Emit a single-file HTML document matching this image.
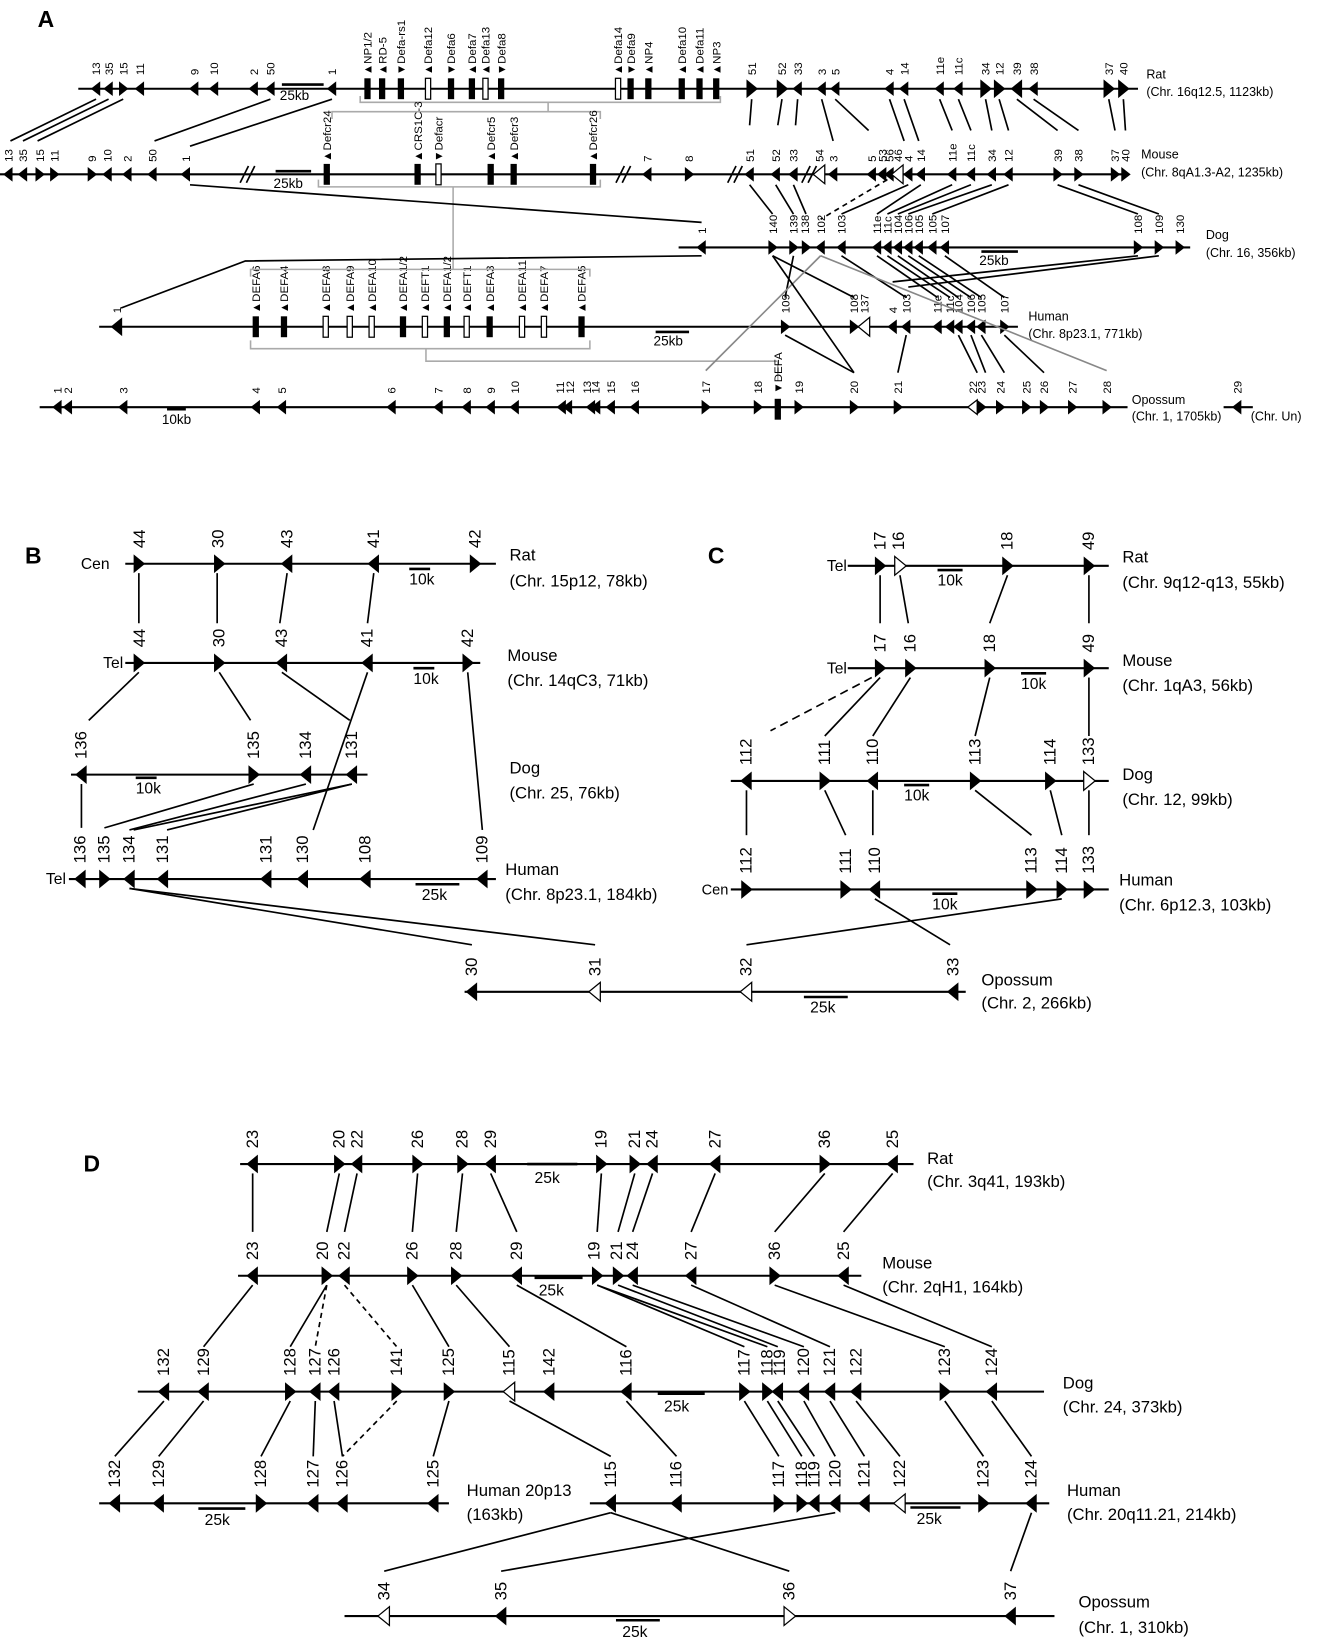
<!DOCTYPE html>
<html><head><meta charset="utf-8"><style>
html,body{margin:0;padding:0;background:#fff;}
svg{display:block;}
text{font-family:"Liberation Sans",sans-serif;fill:#000;}
.a{font-size:11px;}
.b{font-size:16px;}
.ln{stroke:#000;stroke-width:2;fill:none;}
.cn{stroke:#000;stroke-width:1.6;fill:none;}
.gr{stroke:#aaa;stroke-width:1.5;fill:none;}
.sc{stroke:#000;stroke-width:2.5;}
</style></head><body>
<svg width="1328" height="1638" viewBox="0 0 1272 1569" preserveAspectRatio="none" xmlns="http://www.w3.org/2000/svg">
<defs>
<path id="R" d="M-5,-9 L6,0 L-5,9Z" fill="#000"/>
<path id="L" d="M5,-9 L-6,0 L5,9Z" fill="#000"/>
<path id="RO" d="M-5,-9 L6,0 L-5,9Z" fill="#fff" stroke="#000" stroke-width="1.2"/>
<path id="LO" d="M5,-9 L-6,0 L5,9Z" fill="#fff" stroke="#000" stroke-width="1.2"/>
<path id="r" d="M-4,-7 L5,0 L-4,7Z" fill="#000"/>
<path id="l" d="M4,-7 L-5,0 L4,7Z" fill="#000"/>
<path id="lo" d="M4,-7 L-5,0 L4,7Z" fill="#fff" stroke="#000" stroke-width="1.2"/>
<rect id="B" x="-3" y="-10" width="6" height="20" fill="#000"/>
<rect id="BO" x="-2.5" y="-10" width="5" height="20" fill="#fff" stroke="#000" stroke-width="1.2"/>
</defs>

<text x="36" y="26" style="font-size:22px;font-weight:bold">A</text>
<text x="24" y="540" style="font-size:22px;font-weight:bold">B</text>
<text x="678" y="540" style="font-size:22px;font-weight:bold">C</text>
<text x="80" y="1122" style="font-size:22px;font-weight:bold">D</text>

<!-- ================= PANEL A ================= -->
<!-- Rat -->
<line class="ln" x1="75" y1="85" x2="1090" y2="85"/>
<g>
<use href="#l" x="92" y="85"/><use href="#l" x="104" y="85"/><use href="#r" x="118" y="85"/><use href="#l" x="134" y="85"/>
<use href="#l" x="186" y="85"/><use href="#l" x="205" y="85"/><use href="#l" x="243" y="85"/><use href="#l" x="259" y="85"/><use href="#l" x="318" y="85"/>
<use href="#B" x="352" y="85"/><use href="#B" x="366" y="85"/><use href="#B" x="384" y="85"/><use href="#BO" x="410" y="85"/>
<use href="#B" x="432" y="85"/><use href="#B" x="452" y="85"/><use href="#BO" x="465" y="85"/><use href="#B" x="480" y="85"/>
<use href="#BO" x="592" y="85"/><use href="#B" x="604" y="85"/><use href="#B" x="621" y="85"/><use href="#B" x="653" y="85"/><use href="#B" x="670" y="85"/><use href="#B" x="686" y="85"/>
<use href="#R" x="720" y="85"/><use href="#R" x="749" y="85"/><use href="#l" x="764" y="85"/><use href="#l" x="787" y="85"/><use href="#l" x="800" y="85"/>
<use href="#l" x="852" y="85"/><use href="#l" x="866" y="85"/><use href="#l" x="900" y="85"/><use href="#l" x="918" y="85"/>
<use href="#R" x="944" y="85"/><use href="#R" x="957" y="85"/><use href="#L" x="974" y="85"/><use href="#l" x="990" y="85"/>
<use href="#R" x="1062" y="85"/><use href="#R" x="1076" y="85"/>
</g>
<line class="sc" x1="270" y1="81" x2="310" y2="81"/><text x="268" y="96" style="font-size:13px">25kb</text>
<g class="a">
<text transform="translate(96,72) rotate(-90)">13</text><text transform="translate(108,72) rotate(-90)">35</text><text transform="translate(122,72) rotate(-90)">15</text><text transform="translate(138,72) rotate(-90)">11</text>
<text transform="translate(190,72) rotate(-90)">9</text><text transform="translate(209,72) rotate(-90)">10</text><text transform="translate(247,72) rotate(-90)">2</text><text transform="translate(263,72) rotate(-90)">50</text><text transform="translate(322,72) rotate(-90)">1</text>
<text transform="translate(356,72) rotate(-90)">▲NP1/2</text><text transform="translate(370,72) rotate(-90)">▲RD-5</text><text transform="translate(388,72) rotate(-90)">▼Defa-rs1</text><text transform="translate(414,72) rotate(-90)">▲Defa12</text>
<text transform="translate(436,72) rotate(-90)">▼Defa6</text><text transform="translate(456,72) rotate(-90)">▲Defa7</text><text transform="translate(469,72) rotate(-90)">▲Defa13</text><text transform="translate(484,72) rotate(-90)">▼Defa8</text>
<text transform="translate(596,72) rotate(-90)">▲Defa14</text><text transform="translate(608,72) rotate(-90)">▼Defa9</text><text transform="translate(625,72) rotate(-90)">▲NP4</text><text transform="translate(657,72) rotate(-90)">▲Defa10</text><text transform="translate(674,72) rotate(-90)">▲Defa11</text><text transform="translate(690,72) rotate(-90)">▲NP3</text>
<text transform="translate(724,72) rotate(-90)">51</text><text transform="translate(753,72) rotate(-90)">52</text><text transform="translate(768,72) rotate(-90)">33</text><text transform="translate(791,72) rotate(-90)">3</text><text transform="translate(804,72) rotate(-90)">5</text>
<text transform="translate(856,72) rotate(-90)">4</text><text transform="translate(870,72) rotate(-90)">14</text><text transform="translate(904,72) rotate(-90)">11e</text><text transform="translate(922,72) rotate(-90)">11c</text>
<text transform="translate(948,72) rotate(-90)">34</text><text transform="translate(961,72) rotate(-90)">12</text><text transform="translate(978,72) rotate(-90)">39</text><text transform="translate(994,72) rotate(-90)">38</text>
<text transform="translate(1066,72) rotate(-90)">37</text><text transform="translate(1080,72) rotate(-90)">40</text>
</g>
<text x="1098" y="75" style="font-size:12px">Rat</text>
<text x="1098" y="92" style="font-size:12px">(Chr. 16q12.5, 1123kb)</text>
<polyline class="gr" points="345,92 345,98 690,98 690,92"/>
<polyline class="gr" points="525,98 525,107"/>
<polyline class="gr" points="318,114 318,107 575,107 575,114"/>

<!-- Mouse -->
<line class="ln" x1="0" y1="167" x2="1080" y2="167"/>
<g>
<use href="#l" x="8" y="167"/><use href="#l" x="22" y="167"/><use href="#r" x="38" y="167"/><use href="#r" x="52" y="167"/>
<use href="#r" x="88" y="167"/><use href="#l" x="103" y="167"/><use href="#l" x="122" y="167"/><use href="#l" x="146" y="167"/><use href="#l" x="178" y="167"/>
<use href="#B" x="313" y="167"/><use href="#B" x="400" y="167"/><use href="#BO" x="420" y="167"/><use href="#B" x="470" y="167"/><use href="#B" x="492" y="167"/><use href="#B" x="568" y="167"/>
<use href="#l" x="620" y="167"/><use href="#r" x="660" y="167"/>
<use href="#l" x="718" y="167"/><use href="#l" x="743" y="167"/><use href="#l" x="760" y="167"/><use href="#LO" x="785" y="167"/><use href="#l" x="798" y="167"/>
<use href="#l" x="835" y="167"/><use href="#l" x="845" y="167"/><use href="#l" x="852" y="167"/><use href="#LO" x="860" y="167"/><use href="#l" x="870" y="167"/><use href="#l" x="882" y="167"/>
<use href="#l" x="912" y="167"/><use href="#l" x="930" y="167"/><use href="#l" x="950" y="167"/><use href="#l" x="966" y="167"/>
<use href="#r" x="1013" y="167"/><use href="#r" x="1033" y="167"/><use href="#r" x="1068" y="167"/><use href="#r" x="1078" y="167"/>
</g>
<g class="cn"><line x1="230" y1="175" x2="238" y2="159"/><line x1="236" y1="175" x2="244" y2="159"/>
<line x1="590" y1="175" x2="598" y2="159"/><line x1="596" y1="175" x2="604" y2="159"/>
<line x1="697" y1="175" x2="705" y2="159"/><line x1="703" y1="175" x2="711" y2="159"/>
<line x1="768" y1="175" x2="776" y2="159"/><line x1="774" y1="175" x2="782" y2="159"/></g>
<line class="sc" x1="264" y1="164" x2="298" y2="164"/><text x="262" y="180" style="font-size:13px">25kb</text>
<g class="a">
<text transform="translate(12,155) rotate(-90)">13</text><text transform="translate(26,155) rotate(-90)">35</text><text transform="translate(42,155) rotate(-90)">15</text><text transform="translate(56,155) rotate(-90)">11</text>
<text transform="translate(92,155) rotate(-90)">9</text><text transform="translate(107,155) rotate(-90)">10</text><text transform="translate(126,155) rotate(-90)">2</text><text transform="translate(150,155) rotate(-90)">50</text><text transform="translate(182,155) rotate(-90)">1</text>
<text transform="translate(317,155) rotate(-90)">▲Defcr24</text><text transform="translate(404,155) rotate(-90)">▲CRS1C-3</text><text transform="translate(424,155) rotate(-90)">▼Defacr</text><text transform="translate(474,155) rotate(-90)">▲Defcr5</text><text transform="translate(496,155) rotate(-90)">▲Defcr3</text><text transform="translate(572,155) rotate(-90)">▲Defcr26</text>
<text transform="translate(624,155) rotate(-90)">7</text><text transform="translate(664,155) rotate(-90)">8</text>
<text transform="translate(722,155) rotate(-90)">51</text><text transform="translate(747,155) rotate(-90)">52</text><text transform="translate(764,155) rotate(-90)">33</text><text transform="translate(789,155) rotate(-90)">54</text><text transform="translate(802,155) rotate(-90)">3</text>
<text transform="translate(839,155) rotate(-90)">5</text><text transform="translate(849,155) rotate(-90)">53</text><text transform="translate(856,155) rotate(-90)">56</text><text transform="translate(864,155) rotate(-90)">46</text><text transform="translate(874,155) rotate(-90)">4</text><text transform="translate(886,155) rotate(-90)">14</text>
<text transform="translate(916,155) rotate(-90)">11e</text><text transform="translate(934,155) rotate(-90)">11c</text><text transform="translate(954,155) rotate(-90)">34</text><text transform="translate(970,155) rotate(-90)">12</text>
<text transform="translate(1017,155) rotate(-90)">39</text><text transform="translate(1037,155) rotate(-90)">38</text><text transform="translate(1072,155) rotate(-90)">37</text><text transform="translate(1082,155) rotate(-90)">40</text>
</g>
<text x="1093" y="152" style="font-size:12px">Mouse</text>
<text x="1093" y="169" style="font-size:12px">(Chr. 8qA1.3-A2, 1235kb)</text>
<polyline class="gr" points="305,172 305,179 575,179 575,172"/>
<line class="gr" x1="434" y1="179" x2="434" y2="258"/>

<!-- rat->mouse connectors -->
<g class="cn">
<line x1="92" y1="95" x2="10" y2="135"/><line x1="104" y1="95" x2="22" y2="135"/><line x1="118" y1="95" x2="36" y2="135"/>
<line x1="259" y1="95" x2="148" y2="135"/><line x1="318" y1="95" x2="182" y2="140"/>
<line x1="720" y1="95" x2="718" y2="120"/><line x1="749" y1="95" x2="745" y2="120"/><line x1="764" y1="95" x2="762" y2="120"/>
<line x1="787" y1="95" x2="798" y2="135"/><line x1="800" y1="95" x2="832" y2="125"/><line x1="852" y1="95" x2="866" y2="135"/><line x1="866" y1="95" x2="880" y2="135"/>
<line x1="900" y1="95" x2="912" y2="125"/><line x1="918" y1="95" x2="930" y2="125"/><line x1="944" y1="95" x2="950" y2="125"/><line x1="957" y1="95" x2="966" y2="125"/>
<line x1="974" y1="95" x2="1013" y2="125"/><line x1="990" y1="95" x2="1033" y2="125"/><line x1="1062" y1="95" x2="1068" y2="125"/><line x1="1076" y1="95" x2="1078" y2="125"/>
</g>

<!-- Dog -->
<line class="ln" x1="650" y1="237" x2="1140" y2="237"/>
<g>
<use href="#l" x="672" y="237"/><use href="#r" x="740" y="237"/><use href="#r" x="760" y="237"/><use href="#r" x="772" y="237"/><use href="#l" x="786" y="237"/>
<use href="#l" x="806" y="237"/><use href="#l" x="840" y="237"/><use href="#l" x="850" y="237"/><use href="#l" x="860" y="237"/><use href="#l" x="870" y="237"/><use href="#l" x="880" y="237"/><use href="#l" x="893" y="237"/><use href="#l" x="905" y="237"/>
<use href="#r" x="1090" y="237"/><use href="#r" x="1110" y="237"/><use href="#r" x="1130" y="237"/>
</g>
<line class="sc" x1="940" y1="241" x2="975" y2="241"/><text x="938" y="254" style="font-size:13px">25kb</text>
<g class="a">
<text transform="translate(676,224) rotate(-90)">1</text><text transform="translate(744,224) rotate(-90)">140</text><text transform="translate(764,224) rotate(-90)">139</text><text transform="translate(775,224) rotate(-90)">138</text><text transform="translate(790,224) rotate(-90)">102</text>
<text transform="translate(810,224) rotate(-90)">103</text><text transform="translate(844,224) rotate(-90)">11e</text><text transform="translate(854,224) rotate(-90)">11c</text><text transform="translate(864,224) rotate(-90)">104</text><text transform="translate(874,224) rotate(-90)">106</text><text transform="translate(884,224) rotate(-90)">105</text><text transform="translate(897,224) rotate(-90)">105</text><text transform="translate(909,224) rotate(-90)">107</text>
<text transform="translate(1094,224) rotate(-90)">108</text><text transform="translate(1114,224) rotate(-90)">109</text><text transform="translate(1134,224) rotate(-90)">130</text>
</g>
<text x="1155" y="229" style="font-size:12px">Dog</text>
<text x="1155" y="246" style="font-size:12px">(Chr. 16, 356kb)</text>

<!-- mouse->dog -->
<g class="cn">
<line x1="182" y1="177" x2="672" y2="213"/>
<line x1="718" y1="177" x2="740" y2="205"/><line x1="743" y1="177" x2="760" y2="205"/><line x1="760" y1="177" x2="772" y2="205"/>
<line x1="870" y1="177" x2="806" y2="205"/><line x1="882" y1="177" x2="840" y2="205"/>
<line x1="912" y1="177" x2="850" y2="205"/><line x1="930" y1="177" x2="860" y2="205"/><line x1="950" y1="177" x2="870" y2="205"/><line x1="966" y1="177" x2="893" y2="205"/>
<line x1="1013" y1="177" x2="1090" y2="205"/><line x1="1033" y1="177" x2="1110" y2="205"/>
</g>
<line x1="850" y1="172" x2="786" y2="210" stroke="#000" stroke-width="1.6" stroke-dasharray="5,4"/>

<!-- Human -->
<line class="ln" x1="95" y1="313" x2="975" y2="313"/>
<g>
<use href="#L" x="112" y="313"/>
<use href="#B" x="245" y="313"/><use href="#B" x="272" y="313"/><use href="#BO" x="312" y="313"/><use href="#BO" x="335" y="313"/><use href="#BO" x="356" y="313"/><use href="#B" x="386" y="313"/><use href="#BO" x="407" y="313"/><use href="#B" x="428" y="313"/><use href="#BO" x="447" y="313"/><use href="#B" x="469" y="313"/><use href="#BO" x="500" y="313"/><use href="#BO" x="521" y="313"/><use href="#B" x="557" y="313"/>
<use href="#r" x="752" y="313"/><use href="#r" x="818" y="313"/><use href="#LO" x="828" y="313"/><use href="#l" x="855" y="313"/><use href="#l" x="868" y="313"/>
<use href="#l" x="898" y="313"/><use href="#l" x="910" y="313"/><use href="#l" x="918" y="313"/><use href="#l" x="930" y="313"/><use href="#l" x="940" y="313"/><use href="#r" x="962" y="313"/>
</g>
<line class="sc" x1="628" y1="318" x2="660" y2="318"/><text x="626" y="331" style="font-size:13px">25kb</text>
<g class="a">
<text transform="translate(116,300) rotate(-90)">1</text>
<text transform="translate(249,300) rotate(-90)">▲DEFA6</text><text transform="translate(276,300) rotate(-90)">▲DEFA4</text><text transform="translate(316,300) rotate(-90)">▲DEFA8</text><text transform="translate(339,300) rotate(-90)">▲DEFA9</text><text transform="translate(360,300) rotate(-90)">▲DEFA10</text><text transform="translate(390,300) rotate(-90)">▲DEFA1/2</text><text transform="translate(411,300) rotate(-90)">▲DEFT1</text><text transform="translate(432,300) rotate(-90)">▲DEFA1/2</text><text transform="translate(451,300) rotate(-90)">▲DEFT1</text><text transform="translate(473,300) rotate(-90)">▲DEFA3</text><text transform="translate(504,300) rotate(-90)">▲DEFA11</text><text transform="translate(525,300) rotate(-90)">▲DEFA7</text><text transform="translate(561,300) rotate(-90)">▲DEFA5</text>
<text transform="translate(756,300) rotate(-90)">109</text><text transform="translate(822,300) rotate(-90)">108</text><text transform="translate(832,300) rotate(-90)">137</text><text transform="translate(859,300) rotate(-90)">4</text><text transform="translate(872,300) rotate(-90)">103</text>
<text transform="translate(902,300) rotate(-90)">11e</text><text transform="translate(914,300) rotate(-90)">11c</text><text transform="translate(922,300) rotate(-90)">104</text><text transform="translate(934,300) rotate(-90)">106</text><text transform="translate(944,300) rotate(-90)">105</text><text transform="translate(966,300) rotate(-90)">107</text>
</g>
<text x="985" y="307" style="font-size:12px">Human</text>
<text x="985" y="324" style="font-size:12px">(Chr. 8p23.1, 771kb)</text>
<polyline class="gr" points="240,326 240,334 565,334 565,326"/>
<polyline class="gr" points="408,334 408,346 745,346 745,365"/>
<polyline class="gr" points="240,265 240,258 565,258 565,265"/>

<!-- dog->human -->
<g class="cn">
<polyline points="672,245 235,250 116,295"/>
<line x1="740" y1="245" x2="818" y2="285"/><line x1="760" y1="245" x2="752" y2="285"/>
<line x1="806" y1="245" x2="868" y2="285"/>
<line x1="840" y1="245" x2="898" y2="285"/><line x1="850" y1="245" x2="910" y2="285"/><line x1="860" y1="245" x2="918" y2="285"/><line x1="870" y1="245" x2="930" y2="285"/><line x1="880" y1="245" x2="940" y2="285"/><line x1="905" y1="245" x2="962" y2="285"/>
<line x1="1090" y1="245" x2="855" y2="270"/><line x1="1110" y1="245" x2="870" y2="275"/>
</g>
<line x1="786" y1="245" x2="676" y2="355" stroke="#888" stroke-width="1.6"/>
<line x1="786" y1="245" x2="1060" y2="355" stroke="#888" stroke-width="1.6"/>

<!-- Opossum -->
<line class="ln" x1="38" y1="390" x2="1080" y2="390"/>
<g>
<use href="#l" x="55" y="390"/><use href="#l" x="65" y="390"/><use href="#l" x="118" y="390"/><use href="#l" x="245" y="390"/><use href="#l" x="270" y="390"/>
<use href="#l" x="375" y="390"/><use href="#l" x="420" y="390"/><use href="#l" x="447" y="390"/><use href="#l" x="470" y="390"/><use href="#l" x="493" y="390"/>
<use href="#l" x="538" y="390"/><use href="#l" x="544" y="390"/><use href="#l" x="566" y="390"/><use href="#l" x="571" y="390"/><use href="#l" x="585" y="390"/><use href="#l" x="608" y="390"/>
<use href="#r" x="676" y="390"/><use href="#r" x="726" y="390"/><use href="#B" x="745" y="392"/><use href="#r" x="765" y="390"/><use href="#r" x="818" y="390"/><use href="#r" x="860" y="390"/>
<use href="#lo" x="932" y="390"/><use href="#r" x="940" y="390"/><use href="#r" x="958" y="390"/><use href="#r" x="983" y="390"/><use href="#r" x="1000" y="390"/><use href="#r" x="1027" y="390"/><use href="#r" x="1060" y="390"/>
</g>
<line class="ln" x1="1172" y1="390" x2="1200" y2="390"/><use href="#l" x="1185" y="390"/>
<line class="sc" x1="160" y1="392" x2="178" y2="392"/><text x="155" y="406" style="font-size:13px">10kb</text>
<g class="a">
<text transform="translate(59,377) rotate(-90)">1</text><text transform="translate(69,377) rotate(-90)">2</text><text transform="translate(122,377) rotate(-90)">3</text><text transform="translate(249,377) rotate(-90)">4</text><text transform="translate(274,377) rotate(-90)">5</text>
<text transform="translate(379,377) rotate(-90)">6</text><text transform="translate(424,377) rotate(-90)">7</text><text transform="translate(451,377) rotate(-90)">8</text><text transform="translate(474,377) rotate(-90)">9</text><text transform="translate(497,377) rotate(-90)">10</text>
<text transform="translate(540,377) rotate(-90)">11</text><text transform="translate(550,377) rotate(-90)">12</text><text transform="translate(566,377) rotate(-90)">13</text><text transform="translate(574,377) rotate(-90)">14</text><text transform="translate(589,377) rotate(-90)">15</text><text transform="translate(612,377) rotate(-90)">16</text>
<text transform="translate(680,377) rotate(-90)">17</text><text transform="translate(730,377) rotate(-90)">18</text><text transform="translate(749,377) rotate(-90)">▼DEFA</text><text transform="translate(769,377) rotate(-90)">19</text><text transform="translate(822,377) rotate(-90)">20</text><text transform="translate(864,377) rotate(-90)">21</text>
<text transform="translate(936,377) rotate(-90)">22</text><text transform="translate(944,377) rotate(-90)">23</text><text transform="translate(962,377) rotate(-90)">24</text><text transform="translate(987,377) rotate(-90)">25</text><text transform="translate(1004,377) rotate(-90)">26</text><text transform="translate(1031,377) rotate(-90)">27</text><text transform="translate(1064,377) rotate(-90)">28</text>
<text transform="translate(1189,377) rotate(-90)">29</text>
</g>
<text x="1084" y="387" style="font-size:12px">Opossum</text>
<text x="1084" y="403" style="font-size:12px">(Chr. 1, 1705kb)</text>
<text x="1198" y="403" style="font-size:12px">(Chr. Un)</text>

<g class="cn">
<line x1="752" y1="321" x2="818" y2="357"/><line x1="868" y1="321" x2="860" y2="357"/>
<line x1="918" y1="321" x2="936" y2="357"/><line x1="930" y1="321" x2="944" y2="357"/><line x1="940" y1="321" x2="962" y2="357"/><line x1="962" y1="321" x2="1000" y2="357"/>
<line x1="740" y1="245" x2="818" y2="357"/>
</g>

<!-- ================= PANEL B ================= -->
<g class="b">
<line class="ln" x1="120" y1="540" x2="475" y2="540"/>
<text x="105" y="545" style="font-size:15px" text-anchor="end">Cen</text>
<use href="#R" x="133" y="540"/><use href="#R" x="210" y="540"/><use href="#L" x="275" y="540"/><use href="#L" x="358" y="540"/><use href="#R" x="455" y="540"/>
<text transform="translate(139,525) rotate(-90)">44</text><text transform="translate(214,525) rotate(-90)">30</text><text transform="translate(280,525) rotate(-90)">43</text><text transform="translate(363,525) rotate(-90)">41</text><text transform="translate(460,525) rotate(-90)">42</text>
<line class="sc" x1="392" y1="545" x2="412" y2="545"/><text x="392" y="560" style="font-size:15px">10k</text>
<text x="488" y="537">Rat</text><text x="488" y="562">(Chr. 15p12,  78kb)</text>

<line class="ln" x1="120" y1="635" x2="460" y2="635"/>
<text x="118" y="640" style="font-size:15px" text-anchor="end">Tel</text>
<use href="#R" x="133" y="635"/><use href="#R" x="210" y="635"/><use href="#L" x="270" y="635"/><use href="#L" x="352" y="635"/><use href="#R" x="448" y="635"/>
<text transform="translate(139,620) rotate(-90)">44</text><text transform="translate(215,620) rotate(-90)">30</text><text transform="translate(275,620) rotate(-90)">43</text><text transform="translate(357,620) rotate(-90)">41</text><text transform="translate(453,620) rotate(-90)">42</text>
<line class="sc" x1="396" y1="640" x2="416" y2="640"/><text x="396" y="655" style="font-size:15px">10k</text>
<text x="486" y="633">Mouse</text><text x="486" y="657">(Chr. 14qC3,  71kb)</text>

<line class="ln" x1="68" y1="742" x2="352" y2="742"/>
<use href="#L" x="78" y="742"/><use href="#R" x="243" y="742"/><use href="#L" x="293" y="742"/><use href="#L" x="337" y="742"/>
<text transform="translate(83,727) rotate(-90)">136</text><text transform="translate(248,727) rotate(-90)">135</text><text transform="translate(298,727) rotate(-90)">134</text><text transform="translate(342,727) rotate(-90)">131</text>
<line class="sc" x1="130" y1="745" x2="150" y2="745"/><text x="130" y="760" style="font-size:15px">10k</text>
<text x="488" y="741">Dog</text><text x="488" y="765">(Chr. 25,  76kb)</text>

<line class="ln" x1="66" y1="842" x2="475" y2="842"/>
<text x="44" y="847" style="font-size:15px">Tel</text>
<use href="#L" x="77" y="842"/><use href="#R" x="100" y="842"/><use href="#L" x="124" y="842"/><use href="#L" x="156" y="842"/><use href="#L" x="255" y="842"/><use href="#L" x="290" y="842"/><use href="#L" x="350" y="842"/><use href="#L" x="462" y="842"/>
<text transform="translate(82,827) rotate(-90)">136</text><text transform="translate(105,827) rotate(-90)">135</text><text transform="translate(129,827) rotate(-90)">134</text><text transform="translate(161,827) rotate(-90)">131</text><text transform="translate(260,827) rotate(-90)">131</text><text transform="translate(295,827) rotate(-90)">130</text><text transform="translate(355,827) rotate(-90)">108</text><text transform="translate(467,827) rotate(-90)">109</text>
<line class="sc" x1="398" y1="847" x2="440" y2="847"/><text x="404" y="862" style="font-size:15px">25k</text>
<text x="484" y="838">Human</text><text x="484" y="862">(Chr. 8p23.1,  184kb)</text>

<line class="ln" x1="445" y1="950" x2="925" y2="950"/>
<use href="#L" x="452" y="950"/><use href="#LO" x="570" y="950"/><use href="#LO" x="715" y="950"/><use href="#L" x="913" y="950"/>
<text transform="translate(457,935) rotate(-90)">30</text><text transform="translate(575,935) rotate(-90)">31</text><text transform="translate(720,935) rotate(-90)">32</text><text transform="translate(918,935) rotate(-90)">33</text>
<line class="sc" x1="770" y1="955" x2="812" y2="955"/><text x="776" y="970" style="font-size:15px">25k</text>
<text x="940" y="944">Opossum</text><text x="940" y="966">(Chr. 2, 266kb)</text>
</g>
<g class="cn">
<line x1="133" y1="549" x2="133" y2="597"/><line x1="208" y1="549" x2="208" y2="597"/><line x1="275" y1="549" x2="268" y2="597"/><line x1="358" y1="549" x2="352" y2="597"/>
<line x1="133" y1="644" x2="85" y2="690"/><line x1="210" y1="644" x2="240" y2="690"/><line x1="270" y1="644" x2="335" y2="690"/><line x1="352" y1="644" x2="300" y2="795"/><line x1="448" y1="644" x2="462" y2="795"/>
<line x1="78" y1="751" x2="78" y2="793"/><line x1="243" y1="751" x2="100" y2="793"/><line x1="293" y1="751" x2="124" y2="795"/><line x1="337" y1="751" x2="128" y2="795"/><line x1="337" y1="751" x2="160" y2="795"/>
<line x1="124" y1="851" x2="452" y2="905"/><line x1="124" y1="851" x2="570" y2="905"/>
</g>

<!-- ================= PANEL C ================= -->
<g class="b">
<line class="ln" x1="812" y1="542" x2="1062" y2="542"/>
<text x="792" y="547" style="font-size:15px">Tel</text>
<use href="#R" x="843" y="542"/><use href="#RO" x="862" y="542"/><use href="#R" x="965" y="542"/><use href="#R" x="1043" y="542"/>
<text transform="translate(848,527) rotate(-90)">17</text><text transform="translate(866,527) rotate(-90)">16</text><text transform="translate(970,527) rotate(-90)">18</text><text transform="translate(1048,527) rotate(-90)">49</text>
<line class="sc" x1="898" y1="546" x2="922" y2="546"/><text x="898" y="561" style="font-size:15px">10k</text>
<text x="1075" y="539">Rat</text><text x="1075" y="563">(Chr. 9q12-q13,  55kb)</text>

<line class="ln" x1="812" y1="640" x2="1062" y2="640"/>
<text x="792" y="645" style="font-size:15px">Tel</text>
<use href="#R" x="843" y="640"/><use href="#R" x="872" y="640"/><use href="#R" x="948" y="640"/><use href="#R" x="1043" y="640"/>
<text transform="translate(848,625) rotate(-90)">17</text><text transform="translate(877,625) rotate(-90)">16</text><text transform="translate(953,625) rotate(-90)">18</text><text transform="translate(1048,625) rotate(-90)">49</text>
<line class="sc" x1="978" y1="645" x2="1002" y2="645"/><text x="978" y="660" style="font-size:15px">10k</text>
<text x="1075" y="638">Mouse</text><text x="1075" y="662">(Chr. 1qA3,  56kb)</text>

<line class="ln" x1="700" y1="748" x2="1062" y2="748"/>
<use href="#L" x="715" y="748"/><use href="#R" x="790" y="748"/><use href="#L" x="836" y="748"/><use href="#R" x="934" y="748"/><use href="#R" x="1006" y="748"/><use href="#RO" x="1043" y="748"/>
<text transform="translate(720,733) rotate(-90)">112</text><text transform="translate(795,733) rotate(-90)">111</text><text transform="translate(841,733) rotate(-90)">110</text><text transform="translate(939,733) rotate(-90)">113</text><text transform="translate(1011,733) rotate(-90)">114</text><text transform="translate(1048,733) rotate(-90)">133</text>
<line class="sc" x1="866" y1="752" x2="890" y2="752"/><text x="866" y="767" style="font-size:15px">10k</text>
<text x="1075" y="747">Dog</text><text x="1075" y="771">(Chr. 12,  99kb)</text>

<line class="ln" x1="700" y1="852" x2="1062" y2="852"/>
<text x="672" y="857" style="font-size:14px">Cen</text>
<use href="#R" x="715" y="852"/><use href="#R" x="810" y="852"/><use href="#L" x="838" y="852"/><use href="#R" x="988" y="852"/><use href="#R" x="1017" y="852"/><use href="#R" x="1043" y="852"/>
<text transform="translate(720,837) rotate(-90)">112</text><text transform="translate(815,837) rotate(-90)">111</text><text transform="translate(843,837) rotate(-90)">110</text><text transform="translate(993,837) rotate(-90)">113</text><text transform="translate(1022,837) rotate(-90)">114</text><text transform="translate(1048,837) rotate(-90)">133</text>
<line class="sc" x1="893" y1="856" x2="917" y2="856"/><text x="893" y="871" style="font-size:15px">10k</text>
<text x="1072" y="848">Human</text><text x="1072" y="872">(Chr. 6p12.3,  103kb)</text>
</g>
<g class="cn">
<line x1="843" y1="551" x2="843" y2="597"/><line x1="862" y1="551" x2="870" y2="597"/><line x1="965" y1="551" x2="948" y2="597"/><line x1="1043" y1="551" x2="1043" y2="597"/>
<line x1="872" y1="649" x2="836" y2="705"/><line x1="948" y1="649" x2="934" y2="705"/><line x1="1043" y1="649" x2="1043" y2="705"/>
<line x1="843" y1="649" x2="790" y2="705"/>
<line x1="715" y1="757" x2="715" y2="800"/><line x1="790" y1="757" x2="810" y2="800"/><line x1="836" y1="757" x2="836" y2="800"/><line x1="934" y1="757" x2="988" y2="800"/><line x1="1006" y1="757" x2="1017" y2="800"/><line x1="1043" y1="757" x2="1043" y2="800"/>
<line x1="838" y1="861" x2="910" y2="905"/><line x1="1017" y1="861" x2="715" y2="905"/>
</g>
<line x1="835" y1="649" x2="738" y2="700" stroke="#000" stroke-width="1.6" stroke-dasharray="8,5"/>

<!-- ================= PANEL D ================= -->
<g class="b">
<line class="ln" x1="230" y1="1115" x2="875" y2="1115"/>
<use href="#L" x="242" y="1115"/><use href="#R" x="325" y="1115"/><use href="#L" x="342" y="1115"/><use href="#R" x="400" y="1115"/><use href="#R" x="443" y="1115"/><use href="#L" x="470" y="1115"/><use href="#R" x="576" y="1115"/><use href="#R" x="608" y="1115"/><use href="#L" x="625" y="1115"/><use href="#L" x="685" y="1115"/><use href="#R" x="790" y="1115"/><use href="#L" x="855" y="1115"/>
<text transform="translate(247,1100) rotate(-90)">23</text><text transform="translate(330,1100) rotate(-90)">20</text><text transform="translate(347,1100) rotate(-90)">22</text><text transform="translate(405,1100) rotate(-90)">26</text><text transform="translate(448,1100) rotate(-90)">28</text><text transform="translate(475,1100) rotate(-90)">29</text><text transform="translate(581,1100) rotate(-90)">19</text><text transform="translate(613,1100) rotate(-90)">21</text><text transform="translate(630,1100) rotate(-90)">24</text><text transform="translate(690,1100) rotate(-90)">27</text><text transform="translate(795,1100) rotate(-90)">36</text><text transform="translate(860,1100) rotate(-90)">25</text>
<line class="sc" x1="505" y1="1115" x2="553" y2="1115"/><text x="512" y="1133" style="font-size:15px">25k</text>
<text x="888" y="1115">Rat</text><text x="888" y="1137">(Chr. 3q41,  193kb)</text>

<line class="ln" x1="228" y1="1222" x2="825" y2="1222"/>
<use href="#L" x="242" y="1222"/><use href="#R" x="313" y="1222"/><use href="#L" x="330" y="1222"/><use href="#R" x="395" y="1222"/><use href="#R" x="437" y="1222"/><use href="#L" x="495" y="1222"/><use href="#R" x="572" y="1222"/><use href="#R" x="592" y="1222"/><use href="#L" x="606" y="1222"/><use href="#L" x="662" y="1222"/><use href="#R" x="742" y="1222"/><use href="#L" x="808" y="1222"/>
<text transform="translate(247,1207) rotate(-90)">23</text><text transform="translate(314,1207) rotate(-90)">20</text><text transform="translate(335,1207) rotate(-90)">22</text><text transform="translate(400,1207) rotate(-90)">26</text><text transform="translate(442,1207) rotate(-90)">28</text><text transform="translate(500,1207) rotate(-90)">29</text><text transform="translate(574,1207) rotate(-90)">19</text><text transform="translate(596,1207) rotate(-90)">21</text><text transform="translate(611,1207) rotate(-90)">24</text><text transform="translate(667,1207) rotate(-90)">27</text><text transform="translate(747,1207) rotate(-90)">36</text><text transform="translate(813,1207) rotate(-90)">25</text>
<line class="sc" x1="512" y1="1224" x2="558" y2="1224"/><text x="516" y="1241" style="font-size:15px">25k</text>
<text x="845" y="1215">Mouse</text><text x="845" y="1238">(Chr. 2qH1,  164kb)</text>

<line class="ln" x1="132" y1="1333" x2="1000" y2="1333"/>
<use href="#L" x="157" y="1333"/><use href="#L" x="195" y="1333"/><use href="#R" x="278" y="1333"/><use href="#L" x="302" y="1333"/><use href="#L" x="320" y="1333"/><use href="#R" x="380" y="1333"/><use href="#R" x="430" y="1333"/><use href="#LO" x="488" y="1333"/><use href="#L" x="526" y="1333"/><use href="#L" x="600" y="1333"/><use href="#R" x="713" y="1333"/><use href="#R" x="735" y="1333"/><use href="#L" x="745" y="1333"/><use href="#L" x="770" y="1333"/><use href="#L" x="795" y="1333"/><use href="#L" x="820" y="1333"/><use href="#R" x="905" y="1333"/><use href="#L" x="950" y="1333"/>
<text transform="translate(162,1318) rotate(-90)">132</text><text transform="translate(200,1318) rotate(-90)">129</text><text transform="translate(283,1318) rotate(-90)">128</text><text transform="translate(307,1318) rotate(-90)">127</text><text transform="translate(325,1318) rotate(-90)">126</text><text transform="translate(385,1318) rotate(-90)">141</text><text transform="translate(435,1318) rotate(-90)">125</text><text transform="translate(493,1318) rotate(-90)">115</text><text transform="translate(531,1318) rotate(-90)">142</text><text transform="translate(605,1318) rotate(-90)">116</text><text transform="translate(718,1318) rotate(-90)">117</text><text transform="translate(740,1318) rotate(-90)">118</text><text transform="translate(752,1318) rotate(-90)">119</text><text transform="translate(775,1318) rotate(-90)">120</text><text transform="translate(800,1318) rotate(-90)">121</text><text transform="translate(825,1318) rotate(-90)">122</text><text transform="translate(910,1318) rotate(-90)">123</text><text transform="translate(955,1318) rotate(-90)">124</text>
<line class="sc" x1="630" y1="1335" x2="675" y2="1335"/><text x="636" y="1352" style="font-size:15px">25k</text>
<text x="1018" y="1330">Dog</text><text x="1018" y="1353">(Chr. 24,  373kb)</text>

<line class="ln" x1="95" y1="1440" x2="430" y2="1440"/>
<use href="#L" x="110" y="1440"/><use href="#L" x="152" y="1440"/><use href="#R" x="250" y="1440"/><use href="#L" x="300" y="1440"/><use href="#L" x="328" y="1440"/><use href="#L" x="415" y="1440"/>
<text transform="translate(115,1425) rotate(-90)">132</text><text transform="translate(157,1425) rotate(-90)">129</text><text transform="translate(255,1425) rotate(-90)">128</text><text transform="translate(305,1425) rotate(-90)">127</text><text transform="translate(333,1425) rotate(-90)">126</text><text transform="translate(420,1425) rotate(-90)">125</text>
<line class="sc" x1="190" y1="1445" x2="235" y2="1445"/><text x="196" y="1461" style="font-size:15px">25k</text>
<text x="447" y="1433">Human 20p13</text><text x="447" y="1456">(163kb)</text>

<line class="ln" x1="565" y1="1440" x2="1005" y2="1440"/>
<use href="#L" x="585" y="1440"/><use href="#L" x="648" y="1440"/><use href="#R" x="746" y="1440"/><use href="#R" x="768" y="1440"/><use href="#L" x="780" y="1440"/><use href="#L" x="800" y="1440"/><use href="#L" x="828" y="1440"/><use href="#LO" x="862" y="1440"/><use href="#R" x="942" y="1440"/><use href="#L" x="988" y="1440"/>
<text transform="translate(590,1425) rotate(-90)">115</text><text transform="translate(653,1425) rotate(-90)">116</text><text transform="translate(751,1425) rotate(-90)">117</text><text transform="translate(773,1425) rotate(-90)">118</text><text transform="translate(785,1425) rotate(-90)">119</text><text transform="translate(805,1425) rotate(-90)">120</text><text transform="translate(833,1425) rotate(-90)">121</text><text transform="translate(867,1425) rotate(-90)">122</text><text transform="translate(947,1425) rotate(-90)">123</text><text transform="translate(993,1425) rotate(-90)">124</text>
<line class="sc" x1="872" y1="1444" x2="920" y2="1444"/><text x="878" y="1460" style="font-size:15px">25k</text>
<text x="1022" y="1433">Human</text><text x="1022" y="1456">(Chr. 20q11.21,  214kb)</text>

<line class="ln" x1="330" y1="1548" x2="1010" y2="1548"/>
<use href="#LO" x="368" y="1548"/><use href="#L" x="480" y="1548"/><use href="#RO" x="756" y="1548"/><use href="#L" x="968" y="1548"/>
<text transform="translate(373,1533) rotate(-90)">34</text><text transform="translate(485,1533) rotate(-90)">35</text><text transform="translate(761,1533) rotate(-90)">36</text><text transform="translate(973,1533) rotate(-90)">37</text>
<line class="sc" x1="590" y1="1552" x2="632" y2="1552"/><text x="596" y="1568" style="font-size:15px">25k</text>
<text x="1033" y="1540">Opossum</text><text x="1033" y="1564">(Chr. 1, 310kb)</text>
</g>
<g class="cn">
<line x1="242" y1="1124" x2="242" y2="1180"/><line x1="325" y1="1124" x2="313" y2="1180"/><line x1="342" y1="1124" x2="330" y2="1180"/><line x1="400" y1="1124" x2="395" y2="1180"/><line x1="443" y1="1124" x2="437" y2="1180"/><line x1="470" y1="1124" x2="495" y2="1180"/><line x1="576" y1="1124" x2="572" y2="1180"/><line x1="608" y1="1124" x2="592" y2="1180"/><line x1="625" y1="1124" x2="606" y2="1180"/><line x1="685" y1="1124" x2="662" y2="1180"/><line x1="790" y1="1124" x2="742" y2="1180"/><line x1="855" y1="1124" x2="808" y2="1180"/>
<line x1="242" y1="1231" x2="195" y2="1290"/><line x1="313" y1="1231" x2="278" y2="1290"/><line x1="395" y1="1231" x2="430" y2="1290"/><line x1="437" y1="1231" x2="488" y2="1290"/><line x1="495" y1="1231" x2="600" y2="1290"/>
<line x1="572" y1="1231" x2="713" y2="1290"/><line x1="572" y1="1231" x2="735" y2="1290"/><line x1="592" y1="1231" x2="745" y2="1290"/><line x1="606" y1="1231" x2="770" y2="1290"/><line x1="662" y1="1231" x2="795" y2="1290"/><line x1="742" y1="1231" x2="905" y2="1290"/><line x1="808" y1="1231" x2="950" y2="1290"/>
<line x1="157" y1="1342" x2="110" y2="1395"/><line x1="195" y1="1342" x2="152" y2="1395"/><line x1="278" y1="1342" x2="250" y2="1395"/><line x1="302" y1="1342" x2="300" y2="1395"/><line x1="320" y1="1342" x2="328" y2="1395"/><line x1="430" y1="1342" x2="415" y2="1395"/>
<line x1="488" y1="1342" x2="585" y2="1395"/><line x1="600" y1="1342" x2="648" y2="1395"/><line x1="713" y1="1342" x2="746" y2="1395"/><line x1="735" y1="1342" x2="768" y2="1395"/><line x1="745" y1="1342" x2="780" y2="1395"/><line x1="770" y1="1342" x2="800" y2="1395"/><line x1="795" y1="1342" x2="828" y2="1395"/><line x1="820" y1="1342" x2="862" y2="1395"/><line x1="905" y1="1342" x2="942" y2="1395"/><line x1="950" y1="1342" x2="988" y2="1395"/>
<line x1="585" y1="1449" x2="756" y2="1505"/><line x1="585" y1="1449" x2="368" y2="1505"/><line x1="800" y1="1449" x2="480" y2="1505"/><line x1="988" y1="1449" x2="968" y2="1505"/>
</g>
<g stroke="#000" stroke-width="1.6" stroke-dasharray="5,4" fill="none">
<line x1="313" y1="1231" x2="302" y2="1290"/><line x1="330" y1="1231" x2="380" y2="1290"/><line x1="380" y1="1342" x2="328" y2="1395"/>
</g>
</svg>
</body></html>
